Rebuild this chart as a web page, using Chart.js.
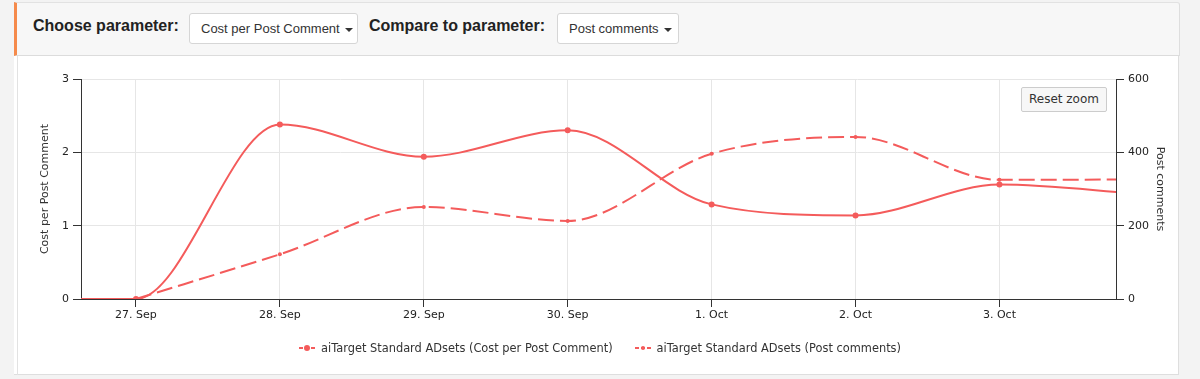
<!DOCTYPE html>
<html>
<head>
<meta charset="utf-8">
<script src="https://cdn.jsdelivr.net/npm/chart.js@4.4.1/dist/chart.umd.min.js"></script>
<style>
  html, body { margin: 0; padding: 0; }
  body { width: 1200px; height: 379px; background: #f3f3f3; position: relative; overflow: hidden; font-family: "Liberation Sans", Arial, sans-serif; }
  #card { position: absolute; left: 14px; top: 2px; width: 1165px; height: 373px; background: #fff; border: 1px solid #dedede; border-left: none; border-radius: 0 3px 0 0; box-sizing: border-box; }
  #header { position: absolute; left: 14px; top: 2px; width: 1166px; height: 54px; background: #f7f7f7; border-bottom: 1px solid #dcdcdc; border-top: 1px solid #e2e2e2; border-right: 1px solid #dedede; border-left: 3px solid #f58a4b; border-radius: 0 3px 0 0; box-sizing: border-box; }
  .lbl { position: absolute; top: 14px; font-weight: bold; font-size: 16px; color: #222; }
  .sel { position: absolute; top: 10px; height: 31px; background: #fff; border: 1px solid #d6d6d6; border-radius: 3px; box-sizing: border-box; font-size: 13px; color: #333; line-height: 29px; padding-left: 11px; }
  .caret { display: inline-block; width: 0; height: 0; border-left: 4px solid transparent; border-right: 4px solid transparent; border-top: 4px solid #333; vertical-align: middle; margin-left: 5px; }
  #leftline { position: absolute; left: 17px; top: 56px; width: 1px; height: 319px; background: #e2e2e2; }
  #wrap { position: absolute; left: 17px; top: 57px; width: 1163px; height: 318px; }
  #reset { position: absolute; left: 1021px; top: 87px; width: 86px; height: 25px; box-sizing: border-box; background: #f7f7f7; border: 1px solid #cccccc; border-radius: 2px; font-family: "DejaVu Sans", sans-serif; font-size: 12px; color: #333; text-align: center; line-height: 23px; }
  #legend { position: absolute; top: 341px; left: 0; width: 1200px; display: flex; justify-content: center; font-family: "DejaVu Sans", sans-serif; font-size: 11.4px; color: #333; }
  .item { display: flex; align-items: center; margin: 0 11px; }
  .item svg { margin-right: 6px; }
</style>
</head>
<body>
<div id="card"></div>
<div id="header">
  <div class="lbl" style="left:16px">Choose parameter:</div>
  <div class="sel" style="left:172px;width:169px">Cost per Post Comment<span class="caret"></span></div>
  <div class="lbl" style="left:352px">Compare to parameter:</div>
  <div class="sel" style="left:540px;width:122px">Post comments<span class="caret"></span></div>
</div>
<div id="leftline"></div>
<div id="wrap"><canvas id="c"></canvas></div>
<div id="reset">Reset zoom</div>
<div id="legend"></div>
<script>
// ---- data ----
const days = [-1, 0, 1, 2, 3, 4, 5, 6, 7];
const dayLabels = ["26. Sep", "27. Sep", "28. Sep", "29. Sep", "30. Sep", "1. Oct", "2. Oct", "3. Oct", "4. Oct"];
const costPerComment = [0, 0, 2.38, 1.94, 2.30, 1.29, 1.14, 1.56, 1.43];
const postComments = [null, 0, 122, 251, 213, 396, 442, 325, 326];
const leftTicks = [0, 1, 2, 3];
const rightTicks = [0, 200, 400, 600];
const seriesNames = ["aiTarget Standard ADsets (Cost per Post Comment)", "aiTarget Standard ADsets (Post comments)"];
const tickDays = [0, 1, 2, 3, 4, 5, 6];

const RED = "#f45b5b";
const costPts = days.map((d, i) => ({ x: d, y: costPerComment[i] }));
const commentPts = days.map((d, i) => ({ x: d, y: postComments[i] })).filter(p => p.y !== null);

const tickFont = { family: "DejaVu Sans", size: 11 };

new Chart(document.getElementById("c"), {
  type: "line",
  data: {
    datasets: [
      { label: seriesNames[0], data: costPts, yAxisID: "y", borderColor: RED, backgroundColor: RED,
        borderWidth: 2, pointRadius: 3, pointBorderWidth: 0, pointBackgroundColor: RED,
        tension: 0.4, cubicInterpolationMode: "monotone", fill: false },
      { label: seriesNames[1], data: commentPts, yAxisID: "y1", borderColor: RED, backgroundColor: RED,
        borderWidth: 2, borderDash: [16, 6], pointRadius: 2, pointBorderWidth: 0, pointBackgroundColor: RED,
        tension: 0.4, cubicInterpolationMode: "monotone", fill: false }
    ]
  },
  options: {
    responsive: true, maintainAspectRatio: false, animation: false,
    layout: { padding: { top: 22, bottom: 46, left: 0, right: 0 } },
    plugins: { legend: { display: false }, tooltip: { enabled: false } },
    scales: {
      x: {
        type: "linear", min: -0.382, max: 6.81,
        afterBuildTicks: s => { s.ticks = tickDays.map(v => ({ value: v })); },
        afterFit: s => { s.height = 30; },
        ticks: { autoSkip: false, maxRotation: 0, padding: 2, color: "#222", font: tickFont,
          callback: v => dayLabels[days.indexOf(v)] },
        grid: { color: "#e6e6e6", tickColor: "#333", tickLength: 8, lineWidth: 1 },
        border: { display: true, color: "#333", width: 1 }
      },
      y: {
        position: "left", min: 0, max: 3,
        afterBuildTicks: s => { s.ticks = leftTicks.map(v => ({ value: v })); },
        afterFit: s => { s.width = 64; },
        ticks: { padding: 4, color: "#222", font: tickFont },
        grid: { color: "#e6e6e6", tickColor: "#333", tickLength: 8 },
        border: { display: true, color: "#333", width: 1 },
        title: { display: true, text: "Cost per Post Comment", color: "#333",
          font: { family: "DejaVu Sans", size: 11 }, padding: { top: 22, bottom: 0 } }
      },
      y1: {
        position: "right", min: 0, max: 600,
        afterBuildTicks: s => { s.ticks = rightTicks.map(v => ({ value: v })); },
        afterFit: s => { s.width = 64; },
        ticks: { padding: 4, color: "#222", font: tickFont },
        grid: { drawOnChartArea: false, tickColor: "#333", tickLength: 8 },
        border: { display: true, color: "#333", width: 1 },
        title: { display: true, text: "Post comments", color: "#333",
          font: { family: "DejaVu Sans", size: 11 }, padding: { top: 14, bottom: 0 } }
      }
    }
  }
});

// HTML legend
const lg = document.getElementById("legend");
seriesNames.forEach((n, i) => {
  const it = document.createElement("div");
  it.className = "item";
  const r = i === 0 ? 3 : 2;
  it.innerHTML = '<svg width="16" height="10"><line x1="0" y1="5" x2="16" y2="5" stroke="' + RED +
    '" stroke-width="2" stroke-dasharray="4,2"/><circle cx="8" cy="5" r="' + r + '" fill="' + RED + '"/></svg>' +
    '<span>' + n + '</span>';
  lg.appendChild(it);
});
</script>
</body>
</html>
